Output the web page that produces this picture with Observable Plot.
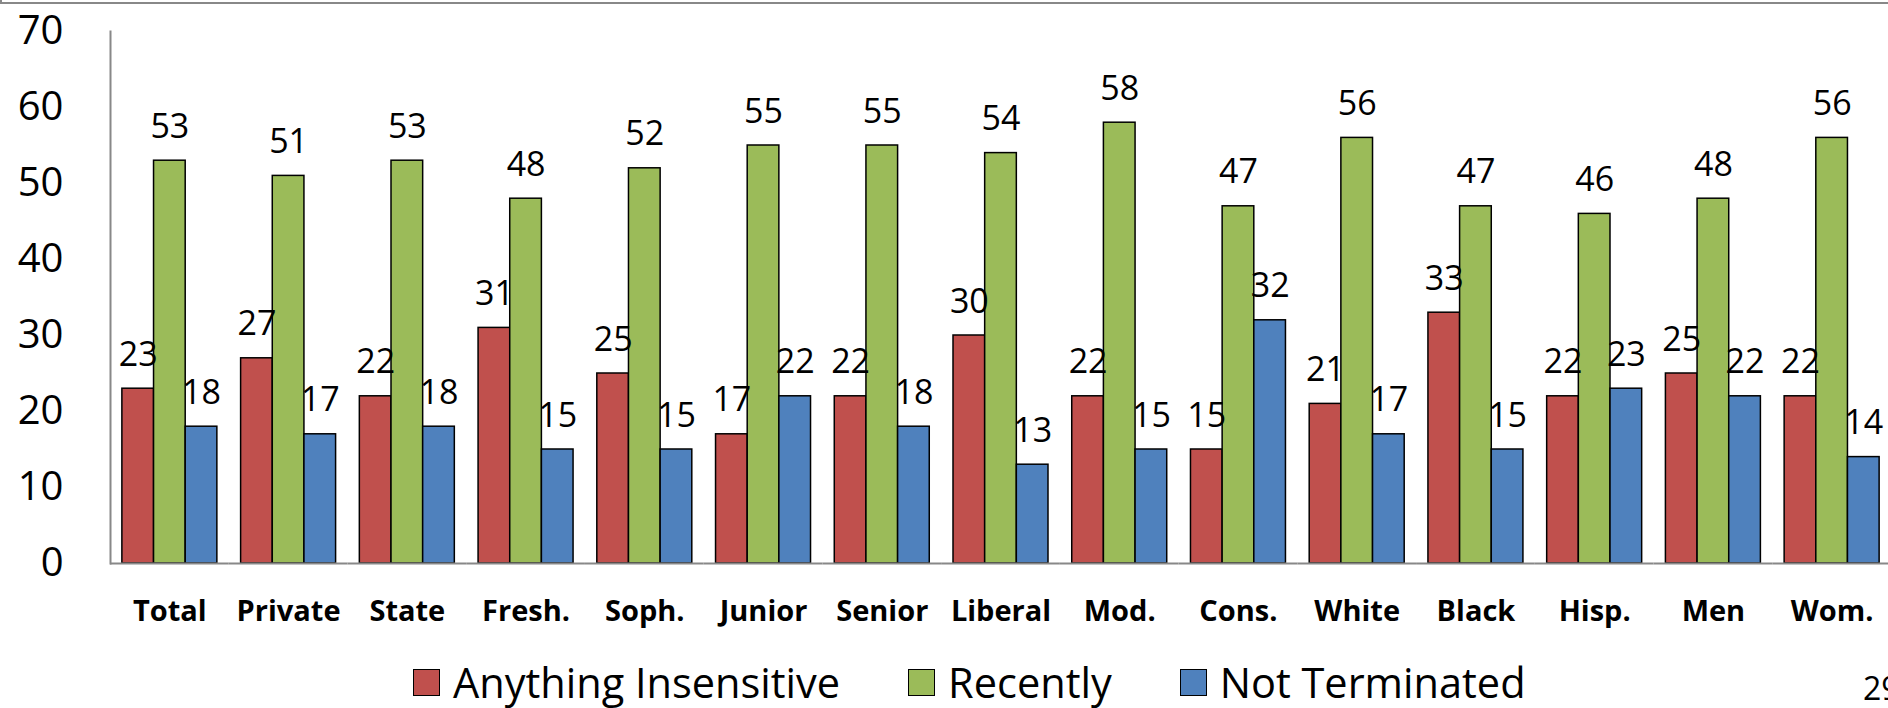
<!DOCTYPE html>
<html>
<head>
<meta charset="utf-8">
<script src="https://cdn.jsdelivr.net/npm/d3@7"></script>
<script src="https://cdn.jsdelivr.net/npm/@observablehq/plot@0.6"></script>
<style>
  html, body { margin: 0; padding: 0; background: #fff; width: 1888px; height: 708px; overflow: hidden; position: relative; font-family: "Open Sans", sans-serif; }
  #frame { position: absolute; left: 0; top: -10px; width: 1900px; height: 12px; border-left: 2px solid #888; border-bottom: 2px solid #888; }
  #chart { position: absolute; left: 0; top: 0; }
  #legend { position: absolute; left: 413px; top: 656px; display: flex; align-items: center; font-size: 41.5px; line-height: 52px; color: #000; white-space: nowrap; }
  .item { display: flex; align-items: center; margin-right: 68px; }
  .sw { width: 25px; height: 25px; border: 1.5px solid #000; margin-right: 13px; }
  #page { position: absolute; left: 1863px; top: 666px; font-size: 32px; color: #000; }
</style>
</head>
<body>
<div id="frame"></div>
<div id="chart"></div>
<div id="legend"></div>
<div id="page">29</div>
<script>
const categories = ["Total","Private","State","Fresh.","Soph.","Junior","Senior","Liberal","Mod.","Cons.","White","Black","Hisp.","Men","Wom."];
const series = ["Anything Insensitive","Recently","Not Terminated"];
const colors = ["#C0504D","#9BBB59","#4F81BD"];
const anythingInsensitive = [23,27,22,31,25,17,22,30,22,15,21,33,22,25,22];
const recently = [53,51,53,48,52,55,55,54,58,47,56,47,46,48,56];
const notTerminated = [18,17,18,15,15,22,18,13,15,32,17,15,23,22,14];
const yTicks = [0,10,20,30,40,50,60,70];

const valuesBySeries = [anythingInsensitive, recently, notTerminated];
const data = categories.flatMap((c, i) => series.map((s, j) => ({category: c, series: s, value: valuesBySeries[j][i]})));

const chart = Plot.plot({
  width: 1888,
  height: 650,
  marginLeft: 110,
  marginRight: -3,
  marginTop: 31,
  marginBottom: 87,
  style: {fontFamily: "Open Sans, sans-serif", color: "#000", background: "transparent", overflow: "visible"},
  fx: {domain: categories, padding: 0, round: false, label: null},
  x: {domain: series, paddingInner: 0, paddingOuter: 0.375, round: false, axis: null},
  y: {domain: [0, 70], label: null},
  color: {domain: series, range: colors},
  marks: [
    Plot.barY(data, {fx: "category", x: "series", y: "value", fill: "series", stroke: "#000", strokeWidth: 1.5}),
    Plot.ruleY([0], {stroke: "#888", strokeWidth: 2}),
    Plot.frame({anchor: "left", facetAnchor: "left", stroke: "#888", strokeWidth: 2}),
    Plot.text(data, {fx: "category", x: "series", y: "value", text: "value", lineAnchor: "bottom", dy: -23, fontSize: 34, fill: "#000"}),
    Plot.axisY({ticks: yTicks, tickSize: 0, tickPadding: 47, fontSize: 40, label: null}),
    Plot.axisFx({anchor: "bottom", tickSize: 0, tickPadding: 37, fontSize: 29, fontWeight: "bold", label: null})
  ]
});
document.getElementById("chart").appendChild(chart);

const legend = document.getElementById("legend");
series.forEach((s, j) => {
  const item = document.createElement("div");
  item.className = "item";
  const sw = document.createElement("div");
  sw.className = "sw";
  sw.style.background = colors[j];
  const t = document.createElement("span");
  t.textContent = s;
  item.appendChild(sw);
  item.appendChild(t);
  legend.appendChild(item);
});
</script>
</body>
</html>
